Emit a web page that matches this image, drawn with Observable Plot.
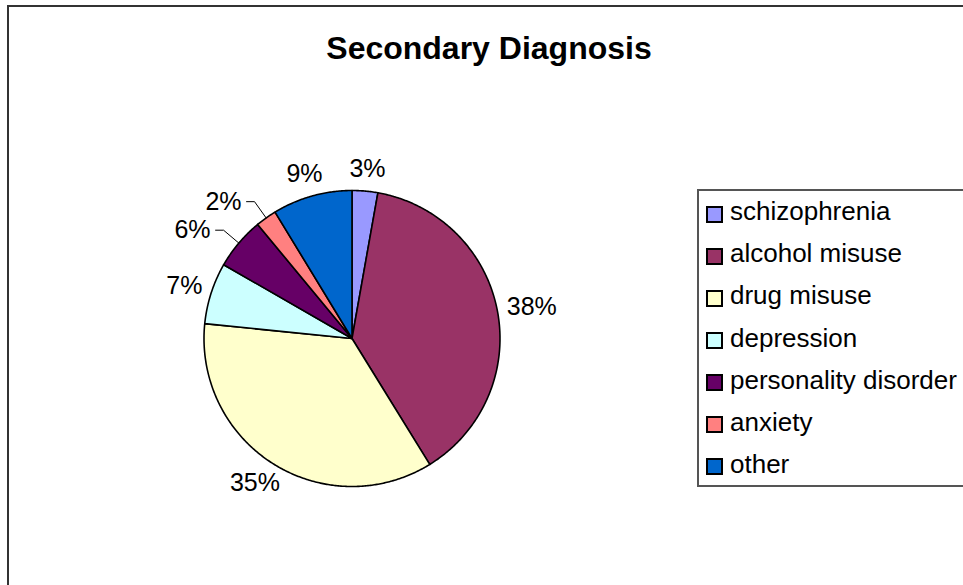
<!DOCTYPE html>
<html>
<head>
<meta charset="utf-8">
<script src="https://cdn.jsdelivr.net/npm/d3@7"></script>
<script src="https://cdn.jsdelivr.net/npm/@observablehq/plot@0.6"></script>
<style>
html, body { margin: 0; padding: 0; background: #fff; }
#wrap { position: relative; width: 963px; height: 585px; overflow: hidden; font-family: "Liberation Sans", Arial, sans-serif; }
#wrap svg { position: absolute; left: 0; top: 0; }
#frame { position: absolute; left: 7px; top: 5px; width: 1000px; height: 1000px; border: 2px solid #333; box-sizing: border-box; pointer-events: none; }
#title { position: absolute; left: 0; width: 978px; top: 32px; text-align: center; font-weight: bold; font-size: 32px; line-height: 32px; color: #000; }
#legendBox { position: absolute; left: 697px; top: 189px; width: 300px; height: 298px; border: 2px solid #555; box-sizing: border-box; background: #fff; }
.sw { position: absolute; left: 706px; width: 17px; height: 17px; border: 2px solid #000; box-sizing: border-box; }
.lt { position: absolute; left: 730px; font-size: 26px; line-height: 26px; color: #000; white-space: nowrap; }
</style>
</head>
<body>
<div id="wrap">
  <div id="chart"></div>
  <div id="frame"></div>
  <div id="title"></div>
  <div id="legendBox"></div>
</div>
<script>
// ---- data ----
const title = "Secondary Diagnosis";
const categories = ["schizophrenia", "alcohol misuse", "drug misuse", "depression", "personality disorder", "anxiety", "other"];
const values = [2.8, 38.4, 35.4, 6.7, 5.7, 2.3, 8.7];
const colors = ["#9999FF", "#993366", "#FFFFCC", "#CCFFFF", "#660066", "#FF8080", "#0066CC"];
const withLeader = ["personality disorder", "anxiety"];

// ---- layout ----
const W = 963, H = 585;
const cx = 351.5, cy = 338, r = 148;
const fontSize = 25;

document.getElementById("title").textContent = title;

const ctx = document.createElement("canvas").getContext("2d");
ctx.font = `${fontSize}px "Liberation Sans", Arial, sans-serif`;
const measure = s => ctx.measureText(s).width;

const pie = d3.pie().sort(null).value(d => d.value)(categories.map((c, i) => ({cat: c, value: values[i]})));

// slice polygons in unit coordinates (pie radius = 1, y up, clockwise from top)
const slicePts = [];
for (const p of pie) {
  const cat = p.data.cat;
  slicePts.push({cat, x: 0, y: 0});
  const n = Math.max(2, Math.ceil((p.endAngle - p.startAngle) / (Math.PI / 360)));
  for (let k = 0; k <= n; k++) {
    const a = p.startAngle + (p.endAngle - p.startAngle) * k / n;
    slicePts.push({cat, x: Math.sin(a), y: Math.cos(a)});
  }
  slicePts.push({cat, x: 0, y: 0});
}

// labels
const labels = [];
const leaders = [];
for (const p of pie) {
  const cat = p.data.cat;
  const text = Math.round(p.data.value) + "%";
  const a = (p.startAngle + p.endAngle) / 2;
  const ux = Math.sin(a), uy = Math.cos(a);
  const w = measure(text);
  if (withLeader.includes(cat)) {
    const kx = ux * (r + 20) / r, ky = uy * (r + 20) / r;
    leaders.push({cat, x: ux, y: uy});
    leaders.push({cat, x: kx, y: ky});
    leaders.push({cat, x: kx - 8 / r, y: ky});
    labels.push({text, x: kx - (13 + w / 2) / r, y: ky});
  } else {
    const g = 10;
    const px = ux * (r + g) / r, py = uy * (r + g) / r;
    labels.push({text, x: px + (w / 2) / r * ux, y: py + (fontSize / 2) / r * uy});
  }
}

const chart = Plot.plot({
  width: W,
  height: H,
  margin: 0,
  x: {domain: [-1, 1], range: [cx - r, cx + r], axis: null},
  y: {domain: [-1, 1], range: [cy + r, cy - r], axis: null},
  color: {domain: categories, range: colors},
  style: {background: "transparent", fontFamily: '"Liberation Sans", Arial, sans-serif'},
  marks: [
    Plot.line(slicePts, {x: "x", y: "y", z: "cat", fill: "cat", stroke: "#000", strokeWidth: 1.6, strokeLinejoin: "round", curve: "linear"}),
    Plot.line(leaders, {x: "x", y: "y", z: "cat", stroke: "#000", strokeWidth: 1, curve: "linear"}),
    Plot.text(labels, {x: "x", y: "y", text: "text", fontSize: fontSize, fill: "#000", textAnchor: "middle"})
  ]
});
document.getElementById("chart").appendChild(chart);

// legend from the plot's color scale
const colorScale = chart.scale("color");
const wrap = document.getElementById("wrap");
colorScale.domain.forEach((c, i) => {
  const yc = 213.5 + 42.1 * i;
  const sw = document.createElement("div");
  sw.className = "sw";
  sw.style.top = (yc - 8) + "px";
  sw.style.background = colorScale.apply(c);
  wrap.appendChild(sw);
  const t = document.createElement("div");
  t.className = "lt";
  t.style.top = (yc - 15.3) + "px";
  t.textContent = c;
  wrap.appendChild(t);
});
</script>
</body>
</html>
